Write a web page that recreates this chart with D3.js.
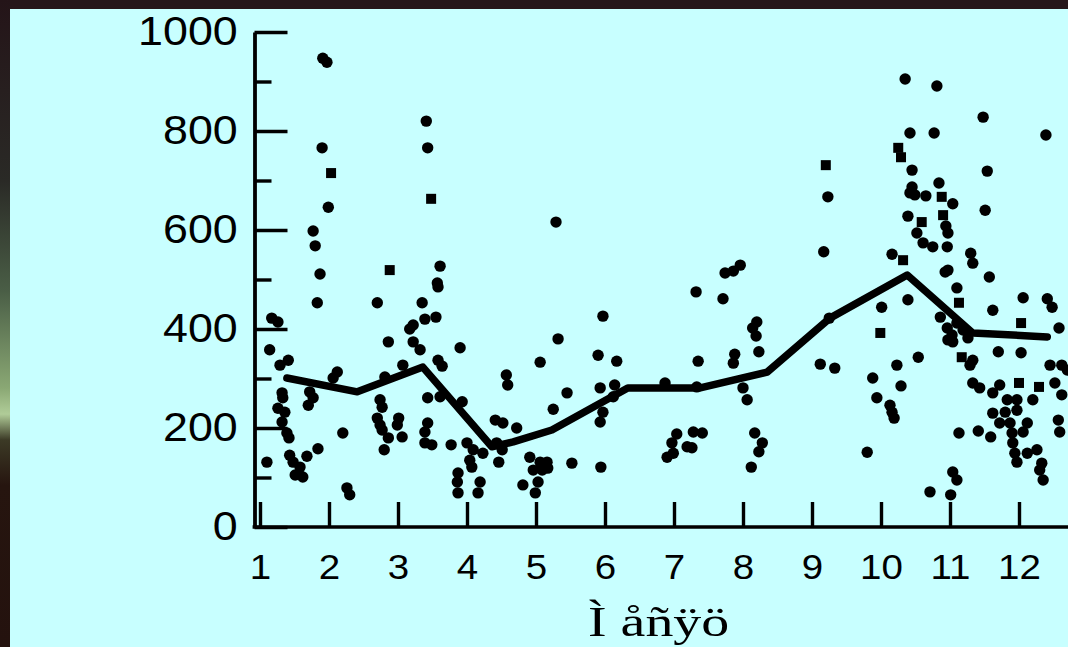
<!DOCTYPE html>
<html>
<head>
<meta charset="utf-8">
<script src="https://cdn.jsdelivr.net/npm/d3@7"></script>
<style>
html,body{margin:0;padding:0;background:#25161a;}
svg{display:block;}
</style>
</head>
<body>
<svg id="chart" width="1068" height="647"></svg>
<script>
// ---- data ----
const months = [1,2,3,4,5,6,7,8,9,10,11,12];
const yMajorTicks = [0,200,400,600,800,1000];
const yMinorTicks = [100,300,500,700,900];
const xTitle = "Ì åñÿö";

// monthly mean line [month, value]
const meanLine = [
  [1.39,301],[2.41,273],[3.36,323],[4.36,162],[4.67,172],[5.23,196],
  [6.33,281],[7.38,281],[8.35,313],[9.26,422],[10.38,509],[11.33,392],[12.41,384]
];

// individual observations drawn as round dots [month, value]
const dots = [
  [1.10,131],[1.17,422],[1.26,414],[1.14,358],[1.29,327],[1.41,337],[1.32,271],[1.33,261],
  [1.26,240],[1.36,232],[1.32,212],[1.39,190],[1.42,180],[1.43,145],[1.48,131],[1.68,143],
  [1.84,158],[1.51,105],[1.62,101],[1.58,121],[1.72,273],[1.77,261],[1.70,246],[1.83,453],
  [1.87,511],[1.77,598],[1.80,568],[1.99,646],[1.90,766],[1.91,947],[1.97,939],[2.12,313],
  [2.06,301],[2.20,190],[2.26,79],[2.30,65],
  [2.70,453],[2.86,374],[2.81,303],[2.74,257],[2.77,242],[2.70,220],[2.74,206],[2.77,196],
  [2.86,180],[2.80,156],[3.01,220],[2.99,206],[3.06,182],[3.07,327],[3.17,400],[3.22,408],
  [3.22,374],[3.32,358],[3.35,453],[3.39,420],[3.55,424],[3.41,820],[3.43,766],[3.61,527],
  [3.57,493],[3.58,485],[3.58,337],[3.64,325],[3.43,261],[3.61,263],[3.43,210],[3.39,192],
  [3.39,170],[3.49,166],
  [3.90,362],[3.93,253],[3.77,166],[4.00,170],[4.09,156],[4.23,149],[4.04,135],[4.07,121],
  [3.87,109],[3.86,91],[3.87,69],[4.19,91],[4.16,69],
  [4.57,307],[4.59,287],[4.41,216],[4.52,210],[4.72,200],[4.43,170],[4.51,156],[4.46,131],
  [4.91,141],[5.06,131],[5.16,131],[4.96,115],[5.09,115],[5.17,119],[5.03,91],[4.81,85],
  [4.99,69],[5.06,333],[5.32,380],[5.29,616],[5.25,238],[5.45,271],[5.52,129],
  [5.97,426],[5.90,347],[6.17,335],[5.93,281],[6.14,287],[6.12,263],[5.97,232],[5.93,212],
  [5.94,121],
  [6.87,291],[7.32,475],[7.35,335],[7.33,283],[7.04,188],[7.28,192],[7.41,190],[6.97,170],
  [7.19,162],[7.26,160],[6.90,141],[6.99,149],
  [7.74,513],[7.86,517],[7.96,529],[7.71,461],[7.88,349],[7.86,331],[8.00,281],[8.06,257],
  [8.20,414],[8.14,402],[8.19,386],[8.23,354],[8.17,190],[8.28,170],[8.23,152],[8.12,121],
  [9.23,667],[9.17,556],[9.12,329],[9.33,321],[9.80,151],[9.25,422],
  [10.35,905],[10.81,891],[10.42,796],[10.77,796],[10.45,721],[10.45,687],[10.42,675],
  [10.49,671],[10.65,669],[10.84,695],[11.04,653],[10.39,628],[10.52,594],[10.94,608],
  [10.97,594],[10.61,574],[10.75,566],[10.96,566],[11.30,553],[11.33,533],[10.16,551],
  [10.93,515],[10.97,519],[11.10,483],[10.39,459],[10.01,444],[9.88,301],[9.94,261],
  [10.23,327],[10.29,285],[10.13,246],[10.16,232],[10.19,220],[10.54,343],[10.71,71],
  [11.01,65],[11.04,111],[11.10,95],
  [11.48,828],[11.54,719],[11.51,640],[11.57,505],[11.62,438],[10.86,424],[10.96,402],
  [11.03,388],[11.10,412],[11.19,398],[11.26,382],[10.97,378],[11.04,374],[11.33,337],
  [11.29,327],[11.70,354],[11.33,291],[11.43,281],[11.62,271],[11.72,287],[11.13,190],
  [11.41,194],[11.59,182],[11.62,230],[11.80,232],[11.97,236],[11.83,257],[11.97,257],
  [12.20,257],[11.72,210],[11.87,210],[12.12,210],[11.90,190],[12.06,192],[11.91,170],
  [12.12,149],[12.26,156],[11.94,149],[11.97,131],
  [12.39,792],[12.06,463],[12.03,352],[12.41,461],[12.48,444],[12.58,402],[12.45,327],
  [12.62,327],[12.70,317],[12.52,291],[12.62,267],[12.57,216],[12.59,192],[12.33,129],
  [12.30,115],[12.35,95]
];

// observations drawn as small squares [month, value]
const squares = [
  [2.03,715],[2.88,519],[3.48,663],[9.20,731],[10.25,766],[10.29,747],[10.88,667],
  [10.59,616],[10.90,630],[10.32,539],[11.13,453],[9.99,392],[11.17,343],[12.03,412],
  [12.00,291],[12.29,283]
];

// ---- drawing ----
const W = 1068, H = 647;
const svg = d3.select("#chart");

const defs = svg.append("defs");
const grad = defs.append("linearGradient").attr("id","leftStrip")
  .attr("x1",0).attr("y1",0).attr("x2",0).attr("y2",1);
[[0,"#241418"],[0.28,"#2a2a26"],[0.45,"#4a5e46"],[0.6,"#8aa874"],[0.64,"#b0cc98"],
 [0.68,"#3c3a26"],[0.75,"#26150f"],[1,"#24120e"]].forEach(([o,c]) =>
  grad.append("stop").attr("offset",o).attr("stop-color",c));

svg.append("rect").attr("width",W).attr("height",H).attr("fill","#25161a");
svg.append("rect").attr("x",0).attr("y",0).attr("width",10).attr("height",H).attr("fill","url(#leftStrip)");
svg.append("rect").attr("x",10).attr("y",9).attr("width",W-10).attr("height",H-9).attr("fill","#c8ffff");

const x = d3.scaleLinear().domain([1,12]).range([260,1019]);
const y = d3.scaleLinear().domain([0,1000]).range([527,32]);
const axisX0 = 254.5;

const stroke = "#000";

// y axis major ticks (pointing inward) with labels
const yAx = svg.append("g").attr("transform",`translate(${axisX0},0)`)
  .call(d3.axisLeft(y).tickValues(yMajorTicks).tickSize(-33).tickSizeOuter(0).tickPadding(15).tickFormat(d3.format("d")));
yAx.select(".domain").attr("stroke",stroke).attr("stroke-width",3.8);
yAx.selectAll(".tick line").attr("stroke",stroke).attr("stroke-width",3.4);
yAx.selectAll(".tick text")
  .attr("fill","#000").attr("font-family","Liberation Sans, Arial, sans-serif")
  .attr("font-size",40).attr("transform","scale(1.12,1)");

// y axis minor ticks
const yMin = svg.append("g").attr("transform",`translate(${axisX0},0)`)
  .call(d3.axisLeft(y).tickValues(yMinorTicks).tickSize(-17).tickFormat(""));
yMin.select(".domain").remove();
yMin.selectAll(".tick line").attr("stroke",stroke).attr("stroke-width",3.4);

// x axis, ticks pointing upward
const xAx = svg.append("g").attr("transform",`translate(0,${y(0)})`)
  .call(d3.axisBottom(x).tickValues(months).tickSize(-25).tickPadding(27).tickFormat(d3.format("d")));
xAx.select(".domain").remove();
xAx.selectAll(".tick line").attr("stroke",stroke).attr("stroke-width",3.4);
xAx.selectAll(".tick text")
  .attr("fill","#000").attr("font-family","Liberation Sans, Arial, sans-serif")
  .attr("font-size",35).attr("transform","scale(1.1,1)");
svg.append("line").attr("x1",axisX0-1.9).attr("x2",W).attr("y1",y(0)).attr("y2",y(0))
  .attr("stroke",stroke).attr("stroke-width",3.6);

// scatter points
svg.append("g").selectAll("circle").data(dots).join("circle")
  .attr("cx",d=>x(d[0])).attr("cy",d=>y(d[1])).attr("r",5.7).attr("fill","#000");
svg.append("g").selectAll("rect").data(squares).join("rect")
  .attr("x",d=>x(d[0])-5).attr("y",d=>y(d[1])-5).attr("width",10).attr("height",10).attr("fill","#000");

// mean line
svg.append("path").datum(meanLine)
  .attr("d", d3.line().x(d=>x(d[0])).y(d=>y(d[1])))
  .attr("fill","none").attr("stroke","#000").attr("stroke-width",7.5)
  .attr("stroke-linejoin","round").attr("stroke-linecap","round");

// axis title
svg.append("text").attr("transform","translate(588,636) scale(1.3,1)")
  .attr("font-family","Liberation Serif, Times New Roman, serif").attr("font-size",43)
  .attr("fill","#000").style("white-space","pre").text(xTitle);
</script>
</body>
</html>
